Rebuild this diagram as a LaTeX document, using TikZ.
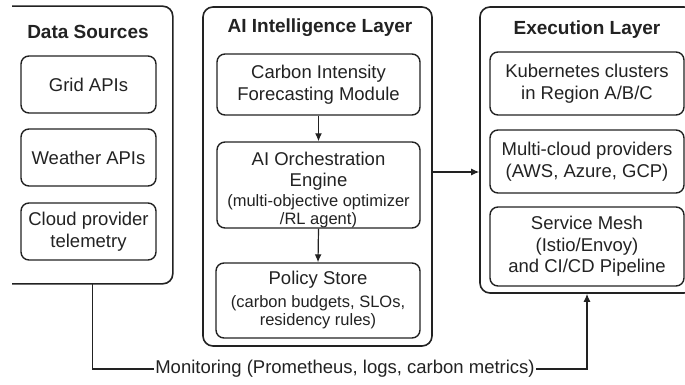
\documentclass[tikz,border=0pt]{standalone}
\usepackage{fontspec}
\setmainfont{Liberation Sans}
\usetikzlibrary{arrows.meta}
\definecolor{ink}{HTML}{222222}
\newcommand{\note}{\fontsize{16.5}{18.5}\selectfont}
\begin{document}
\begin{tikzpicture}[x=1pt,y=-1pt,
  box/.style={draw=ink, line width=1.4pt, rounded corners=8pt, align=center,
    inner sep=0pt, text=ink, font=\fontsize{18.5}{21.5}\selectfont},
  panel/.style={draw=ink, line width=1.6pt, rounded corners=10pt, inner sep=0pt},
  heading/.style={text=ink, font=\bfseries\fontsize{19}{22}\selectfont},
  label/.style={text=ink, align=center, inner sep=0pt, font=\fontsize{18.5}{21.5}\selectfont},
  sublabel/.style={text=ink, align=center, inner sep=0pt, font=\note},
  flow/.style={draw=ink, line width=1.2pt, -{Latex[length=8pt,width=7pt]}},
  link/.style={draw=ink, line width=1.2pt}
]
\useasboundingbox (0,0) rectangle (685,385);

% --- panels ---
\node[panel, draw=none, minimum width=159pt, minimum height=276pt] (ds) at (92.5,145) {};
\draw[link, line width=1.6pt, rounded corners=10pt]
  (ds.north west) -- (ds.north east) -- (ds.south east) -- (ds.south west);
\node[panel, minimum width=229pt, minimum height=339pt] (ai) at (317.5,176.5) {};
\node[panel, minimum width=214pt, minimum height=286pt] (ex) at (587,150) {};

% --- headings ---
\node[heading] (dsT) at (88,32) {Data Sources};
\node[heading] (aiT) at (320,28) {AI Intelligence Layer};
\node[heading] (exT) at (587,30) {Execution Layer};

% --- data sources ---
\node[box, minimum width=135pt, minimum height=57pt] (grid) at (88.5,84.5) {Grid APIs};
\node[box, minimum width=135pt, minimum height=57pt] (weather) at (88.5,157.5) {Weather APIs};
\node[box, minimum width=135pt, minimum height=57pt] (cloud) at (88.5,231.5) {Cloud provider\\telemetry};

% --- AI intelligence layer ---
\node[box, minimum width=203pt, minimum height=61pt] (carbon) at (318.5,84.5)
  {Carbon Intensity\\Forecasting Module};
\node[box, minimum width=203pt, minimum height=86pt] (orch) at (318.5,185) {};
\node[label] (orchT) at (318.5,171) {AI Orchestration\\Engine};
\node[sublabel] (orchN) at (318.5,211) {(multi-objective optimizer\\/RL agent)};
\node[box, minimum width=204pt, minimum height=75pt] (policy) at (318,300.5) {};
\node[label] (policyT) at (318,280) {Policy Store};
\node[sublabel] (policyN) at (318,312) {(carbon budgets, SLOs,\\residency rules)};

% --- execution layer ---
\node[box, minimum width=194pt, minimum height=63pt] (k8s) at (587,83.5)
  {Kubernetes clusters\\in Region A/B/C};
\node[box, minimum width=194pt, minimum height=63pt] (multi) at (587,161.5)
  {Multi-cloud providers\\(AWS, Azure, GCP)};
\node[box, minimum width=194pt, minimum height=79pt] (mesh) at (587,246.5)
  {Service Mesh\\(Istio/Envoy)\\and CI/CD Pipeline};

% --- monitoring label ---
\node[label, inner sep=1.5pt] (mon) at (345,369)
  {Monitoring (Prometheus, logs, carbon metrics)};

% --- connectors ---
\draw[flow] (carbon.south) -- (orch.north);
\draw[flow] (orch.south) -- (policy.north);
\path ([yshift=4.5pt]ai.east) coordinate (aiout);
\draw[flow] (aiout) -- (aiout -| ex.west);
\draw[link] (ds.south) |- (mon.west);
\draw[flow] (mon.east) -| (ex.south);
\end{tikzpicture}
\end{document}
